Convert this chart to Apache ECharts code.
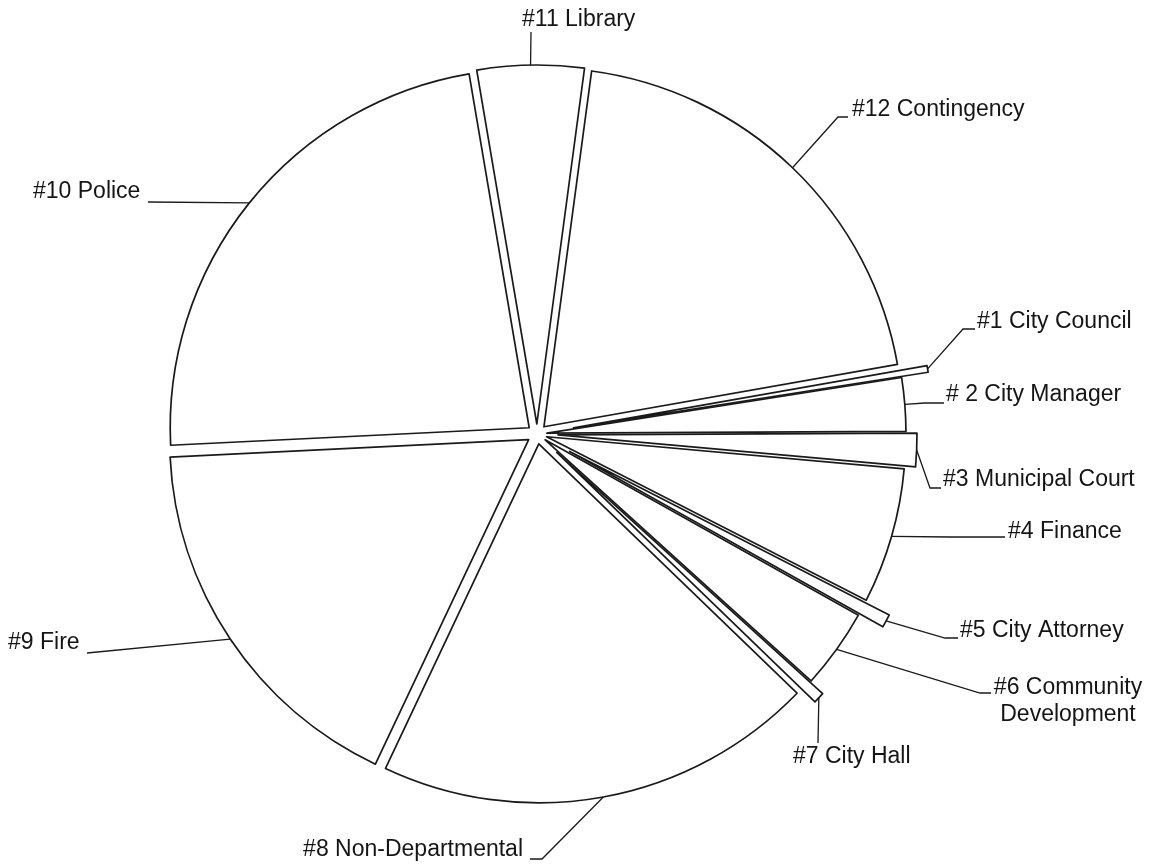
<!DOCTYPE html>
<html>
<head>
<meta charset="utf-8">
<title>General Fund by Department</title>
<script src="https://cdn.jsdelivr.net/npm/echarts@6.0.0/dist/echarts.min.js"></script>
<style>
  html, body { margin: 0; padding: 0; background: #fff; }
  #chart { width: 1157px; height: 865px; }
</style>
</head>
<body>
<div id="chart"></div>
<script>
// departments, clockwise from the City Council sliver
const departments = [
  '#1 City Council',
  '# 2 City Manager',
  '#3 Municipal Court',
  '#4 Finance',
  '#5 City Attorney',
  '#6 Community\nDevelopment',
  '#7 City Hall',
  '#8 Non-Departmental',
  '#9 Fire',
  '#10 Police',
  '#11 Library',
  '#12 Contingency'
]
// share of the budget in percent
const shares = [0.3, 2.4, 1.5, 6.1, 0.6, 3.6, 0.5, 19.8, 17.2, 23.1, 4.8, 20.1]

// how far slices are pulled out of the pie (px)
const basePull = 10
const pullOut = {
  '#1 City Council': 37,
  '#3 Municipal Court': 21,
  '#5 City Attorney': 37,
  '#7 City Hall': 27
}

// label placement: [textX, textY, align, bendX, bendY, endX, endY]
const labelSpots = {
  '#1 City Council': [977, 322, 'left', 963, 329, 975, 329],
  '# 2 City Manager': [946, 395, 'left', 925, 403, 944, 403],
  '#3 Municipal Court': [943, 480, 'left', 930, 488, 941, 488],
  '#4 Finance': [1008, 532, 'left', 950, 537, 1005, 537],
  '#5 City Attorney': [960, 631, 'left', 945, 638, 958, 638],
  '#6 Community\nDevelopment': [1068, 701, 'center', 980, 693, 991, 693],
  '#7 City Hall': [793, 757, 'left', 818, 743, 818, 743],
  '#8 Non-Departmental': [523, 850, 'right', 542, 859, 530, 859],
  '#9 Fire': [8, 643, 'left', 87, 653, 87, 653],
  '#10 Police': [33, 192, 'left', 148, 202, 148, 202],
  '#11 Library': [522, 20, 'left', 531, 32, 531, 32],
  '#12 Contingency': [852, 110, 'left', 838, 117, 848, 117]
}

const lineColor = '#1a1a1a'
const pieCenter = [537, 434]
const pieRadius = 359
const startAngle = 10

const pullOf = name => pullOut[name] || basePull
const sliceStyle = { color: '#fff', borderColor: lineColor, borderWidth: 1.7 }
const hiddenStyle = { color: 'rgba(0,0,0,0)', borderWidth: 0 }

// one pie per pull distance, only its own slices drawn
const pulls = [...new Set(departments.map(pullOf))]
const sliceSeries = pulls.map(p => ({
  type: 'pie',
  center: pieCenter,
  radius: pieRadius,
  startAngle: startAngle,
  clockwise: true,
  selectedMode: 'multiple',
  selectedOffset: p,
  silent: true,
  label: { show: false },
  labelLine: { show: false },
  emphasis: { disabled: true },
  select: { itemStyle: sliceStyle },
  data: departments.map((name, i) => ({
    name: name,
    value: shares[i],
    selected: pullOf(name) === p,
    itemStyle: pullOf(name) === p ? sliceStyle : hiddenStyle
  }))
}))

function placeLabel (params) {
  const name = departments[params.dataIndex]
  const spot = labelSpots[name]
  const pts = params.labelLinePoints
  if (!spot || !pts) return {}
  const x0 = pts[0][0]
  const y0 = pts[0][1]
  const len = Math.hypot(pts[1][0] - x0, pts[1][1] - y0) || 1
  const pull = pullOf(name)
  const start = [x0 + (pts[1][0] - x0) / len * pull, y0 + (pts[1][1] - y0) / len * pull]
  return {
    x: spot[0],
    y: spot[1],
    align: spot[2],
    verticalAlign: 'middle',
    labelLinePoints: [start, [spot[3], spot[4]], [spot[5], spot[6]]]
  }
}

// invisible pie that carries the labels and leader lines
const labelSeries = {
  type: 'pie',
  center: pieCenter,
  radius: pieRadius,
  startAngle: startAngle,
  clockwise: true,
  silent: true,
  avoidLabelOverlap: false,
  itemStyle: hiddenStyle,
  emphasis: { disabled: true },
  label: {
    show: true,
    position: 'outside',
    color: '#151515',
    fontFamily: '"Liberation Sans", Arial, sans-serif',
    fontSize: 23,
    lineHeight: 27
  },
  labelLine: {
    show: true,
    length: 12,
    length2: 10,
    lineStyle: { color: lineColor, width: 1.3 }
  },
  labelLayout: placeLabel,
  data: departments.map((name, i) => ({ name: name, value: shares[i] }))
}

const chart = echarts.init(document.getElementById('chart'))
chart.setOption({
  animation: false,
  backgroundColor: '#fff',
  series: sliceSeries.concat([labelSeries])
})
</script>
</body>
</html>
